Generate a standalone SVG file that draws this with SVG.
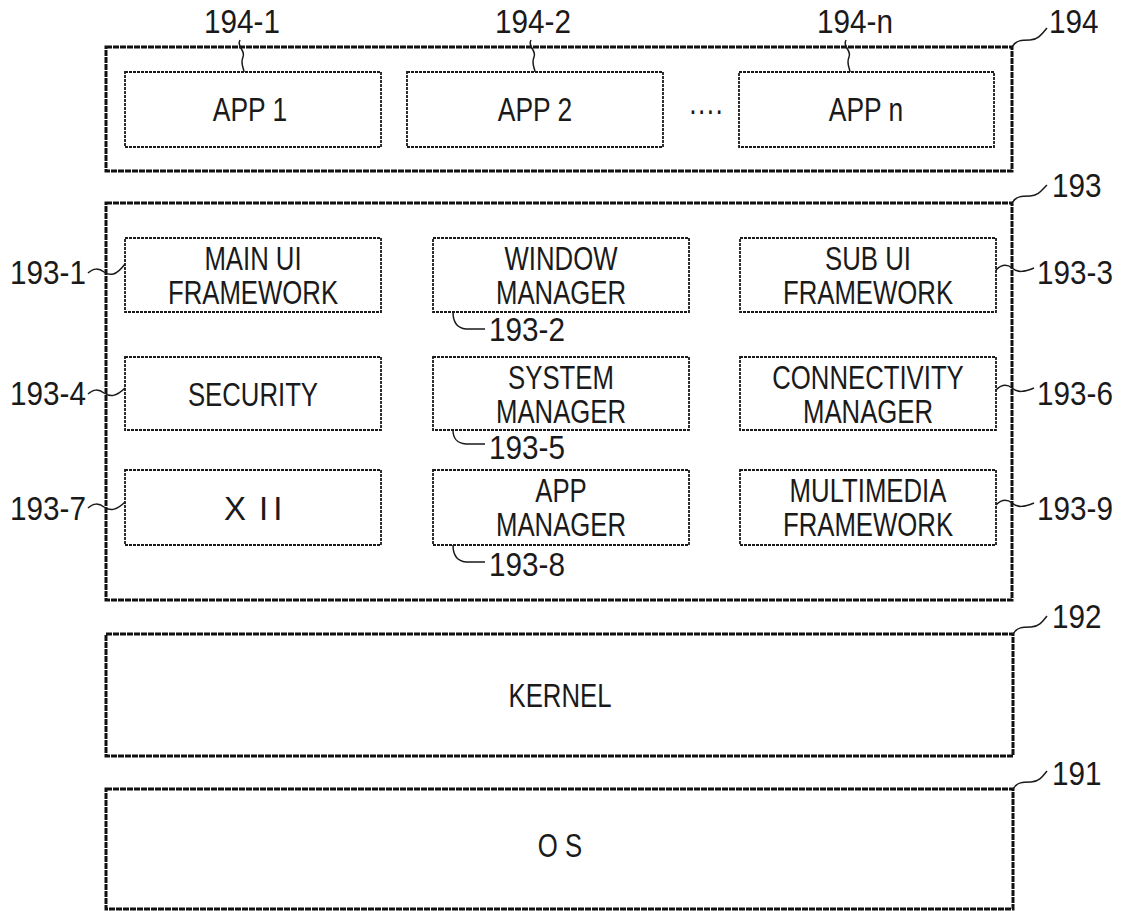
<svg xmlns="http://www.w3.org/2000/svg" width="1127" height="911" viewBox="0 0 1127 911">
<style>
.outer{fill:none;stroke:#111;stroke-width:3;stroke-dasharray:6 1}
.inner{fill:#fff;stroke:#1a1a1a;stroke-width:1.8;stroke-dasharray:3 1}
.t{font-family:"Liberation Sans",Arial,sans-serif;font-size:33px;fill:#1a1a1a;text-anchor:middle}
.l{font-family:"Liberation Sans",Arial,sans-serif;font-size:33px;fill:#1a1a1a}
.e{font-family:"Liberation Sans",Arial,sans-serif;font-size:33px;fill:#1a1a1a;text-anchor:end}
.ld{fill:none;stroke:#1a1a1a;stroke-width:1.5}
</style>
<rect width="1127" height="911" fill="#fff"/>
<g id="n194">
<rect class="outer" x="106" y="47" width="906" height="124"/>
<text class="l" transform="translate(1049,33) scale(0.9,1)">194</text>
</g>
<g id="n194-1">
<rect class="inner" x="125" y="72" width="256" height="75"/>
<text class="t" transform="translate(250,121) scale(0.8,1)">APP 1</text>
<text class="t" transform="translate(242,33) scale(0.9,1)">194-1</text>
</g>
<g id="n194-2">
<rect class="inner" x="407" y="72" width="256" height="75"/>
<text class="t" transform="translate(535,121) scale(0.8,1)">APP 2</text>
<text class="t" transform="translate(533,33) scale(0.9,1)">194-2</text>
</g>
<text class="t" transform="translate(706,121) scale(0.8,1)">····</text>
<g id="n194-n">
<rect class="inner" x="739" y="72" width="255" height="75"/>
<text class="t" transform="translate(866,121) scale(0.8,1)">APP n</text>
<text class="t" transform="translate(855,33) scale(0.9,1)">194-n</text>
</g>
<g id="n193">
<rect class="outer" x="106" y="203" width="906" height="397"/>
<text class="l" transform="translate(1052,197) scale(0.9,1)">193</text>
</g>
<g id="n193-1">
<rect class="inner" x="125" y="238" width="256" height="74"/>
<text class="t" transform="translate(253,270) scale(0.78,1)">MAIN UI</text>
<text class="t" transform="translate(253,304) scale(0.78,1)">FRAMEWORK</text>
<text class="e" transform="translate(86,284) scale(0.9,1)">193-1</text>
</g>
<g id="n193-2">
<rect class="inner" x="433" y="238" width="256" height="74"/>
<text class="t" transform="translate(561,270) scale(0.78,1)">WINDOW</text>
<text class="t" transform="translate(561,304) scale(0.78,1)">MANAGER</text>
<text class="l" transform="translate(489,341) scale(0.9,1)">193-2</text>
</g>
<g id="n193-3">
<rect class="inner" x="740" y="238" width="256" height="74"/>
<text class="t" transform="translate(868,270) scale(0.78,1)">SUB UI</text>
<text class="t" transform="translate(868,304) scale(0.78,1)">FRAMEWORK</text>
<text class="l" transform="translate(1037,284) scale(0.9,1)">193-3</text>
</g>
<g id="n193-4">
<rect class="inner" x="125" y="357" width="256" height="73"/>
<text class="t" transform="translate(253,406) scale(0.78,1)">SECURITY</text>
<text class="e" transform="translate(86,405) scale(0.9,1)">193-4</text>
</g>
<g id="n193-5">
<rect class="inner" x="433" y="357" width="256" height="73"/>
<text class="t" transform="translate(561,389) scale(0.78,1)">SYSTEM</text>
<text class="t" transform="translate(561,423) scale(0.78,1)">MANAGER</text>
<text class="l" transform="translate(489,459) scale(0.9,1)">193-5</text>
</g>
<g id="n193-6">
<rect class="inner" x="740" y="357" width="256" height="73"/>
<text class="t" transform="translate(868,389) scale(0.78,1)">CONNECTIVITY</text>
<text class="t" transform="translate(868,423) scale(0.78,1)">MANAGER</text>
<text class="l" transform="translate(1037,405) scale(0.9,1)">193-6</text>
</g>
<g id="n193-7">
<rect class="inner" x="125" y="470" width="256" height="75"/>
<text class="l" x="224" y="520">X<tspan x="259" letter-spacing="5">II</tspan></text>
<text class="e" transform="translate(86,520) scale(0.9,1)">193-7</text>
</g>
<g id="n193-8">
<rect class="inner" x="433" y="470" width="256" height="75"/>
<text class="t" transform="translate(561,502) scale(0.78,1)">APP</text>
<text class="t" transform="translate(561,536) scale(0.78,1)">MANAGER</text>
<text class="l" transform="translate(489,576) scale(0.9,1)">193-8</text>
</g>
<g id="n193-9">
<rect class="inner" x="740" y="470" width="256" height="75"/>
<text class="t" transform="translate(868,502) scale(0.78,1)">MULTIMEDIA</text>
<text class="t" transform="translate(868,536) scale(0.78,1)">FRAMEWORK</text>
<text class="l" transform="translate(1037,520) scale(0.9,1)">193-9</text>
</g>
<g id="n192">
<rect class="outer" x="106" y="634" width="907" height="122"/>
<text class="t" transform="translate(560,707) scale(0.78,1)">KERNEL</text>
<text class="l" transform="translate(1052,628) scale(0.9,1)">192</text>
</g>
<g id="n191">
<rect class="outer" x="106" y="789" width="907" height="120"/>
<text class="t" transform="translate(560,857) scale(0.78,1)">O S</text>
<text class="l" transform="translate(1052,785) scale(0.9,1)">191</text>
</g>
<g id="connectors">
<path class="ld" d="M240,40 C236,47 246,50 243,57 C240,64 244,68 244,72"/>
<path class="ld" d="M531,40 C527,47 537,50 534,57 C531,64 535,68 535,72"/>
<path class="ld" d="M846,40 C842,47 852,50 849,57 C846,64 850,68 850,72"/>
<path class="ld" d="M1012,47 C1016,40 1022,40 1030,40 C1038,40 1042,34 1047,28"/>
<path class="ld" d="M1012,203 C1016,196 1022,196 1030,196 C1038,196 1042,190 1047,185"/>
<path class="ld" d="M1013,634 C1017,627 1023,627 1031,627 C1039,627 1043,621 1047,616"/>
<path class="ld" d="M1013,789 C1017,782 1023,782 1031,782 C1039,782 1043,776 1047,771"/>
<path class="ld" d="M88,273 C93,268 99,268 104,272 C110,276 116,276 125,264"/>
<path class="ld" d="M88,394 C93,389 99,389 104,393 C110,397 116,397 125,388"/>
<path class="ld" d="M88,508 C93,503 99,503 104,507 C110,511 116,511 125,502"/>
<path class="ld" d="M996,270 C1002,264 1007,264 1012,268 C1018,273 1024,272 1034,268"/>
<path class="ld" d="M996,390 C1002,384 1007,384 1012,388 C1018,393 1024,392 1034,388"/>
<path class="ld" d="M996,505 C1002,499 1007,499 1012,503 C1018,508 1024,507 1034,503"/>
<path class="ld" d="M453,312 C453,320 456,328 466,329 L485,329"/>
<path class="ld" d="M453,430 C453,438 456,443 466,444 L485,444"/>
<path class="ld" d="M453,545 C453,553 456,561 466,562 L485,562"/>
</g>
</svg>
